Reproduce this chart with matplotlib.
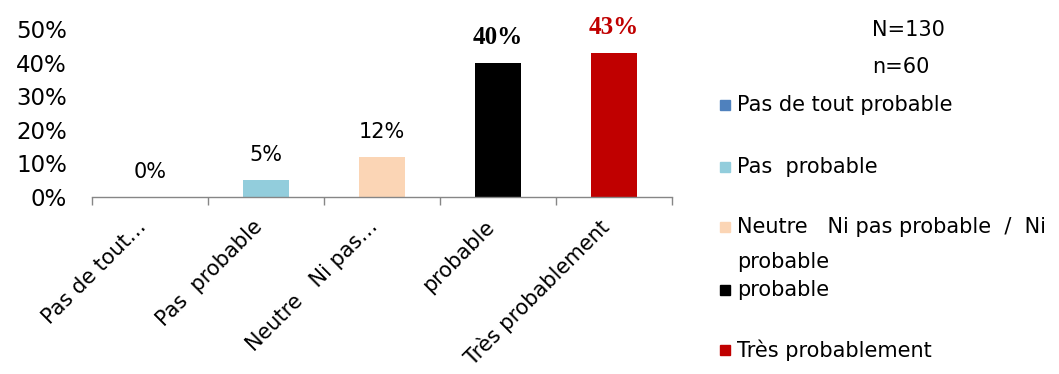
import numpy as np
import matplotlib
matplotlib.use("Agg")
import matplotlib.pyplot as plt
from matplotlib.patches import Rectangle

categories = ["Pas de tout…", "Pas  probable", "Neutre   Ni pas…", "probable", "Très probablement"]
values = [0.0, 0.05, 0.12, 0.40, 0.43]
value_labels = ["0%", "5%", "12%", "40%", "43%"]
legend_labels = ["Pas de tout probable", "Pas  probable",
                 "Neutre   Ni pas probable  /  Ni\nprobable", "probable", "Très probablement"]
colors = ["#4F81BD", "#92CDDC", "#FBD5B5", "#000000", "#C00000"]
yticks = [0.0, 0.1, 0.2, 0.3, 0.4, 0.5]
note = ["N=130", "n=60"]

plt.rcParams['font.family'] = ['DejaVu Sans']

fig = plt.figure(figsize=(10.59, 3.74), dpi=100)
ax = fig.add_axes([0.0869, 0.4733, 0.5477, 0.4492])

x = np.arange(len(values))
bars = ax.bar(x, values, width=0.4, color=colors)

ax.set_xlim(-0.5, len(values) - 0.5)
ax.set_ylim(0, 0.5)
ax.set_yticks(yticks)
ax.set_yticklabels([f"{int(round(t*100))}%" for t in yticks], fontsize=16.5)
ax.tick_params(axis='y', length=0, pad=18)

ax.set_xticks(x)
ax.set_xticklabels(categories, rotation=45, ha='right', fontsize=15)
ax.set_xticks(np.arange(len(values) + 1) - 0.5, minor=True)
ax.tick_params(axis='x', which='major', length=0, pad=14)
ax.tick_params(axis='x', which='minor', length=6, color='#868686', width=1)

for side in ("top", "right", "left"):
    ax.spines[side].set_visible(False)
ax.spines["bottom"].set_color('#868686')
ax.spines["bottom"].set_linewidth(1)

for i, (b, lab) in enumerate(zip(bars, value_labels)):
    if i >= 3:
        kw = dict(fontsize=18, fontweight='bold', family='Liberation Serif', color=colors[i])
    else:
        kw = dict(fontsize=15, color='black')
    ax.annotate(lab, (b.get_x() + b.get_width() / 2, b.get_height()),
                xytext=(0, 18), textcoords='offset points',
                ha='center', va='center', annotation_clip=False, **kw)

# N / n note
fig.text(872 / 1059, 1 - 30 / 374, note[0], fontsize=15, va='center', ha='left')
fig.text(872 / 1059, 1 - 67 / 374, note[1], fontsize=15, va='center', ha='left')

# legend drawn by hand to keep the spacing of the original
leg_y = [105, 167, 227, 290, 350]
for lab, col, yy in zip(legend_labels, colors, leg_y):
    yf = 1 - yy / 374
    fig.patches.append(Rectangle((720 / 1059, yf - 5 / 374), 10 / 1059, 10 / 374,
                                 transform=fig.transFigure, color=col))
    fig.text(737 / 1059, yf, lab.split("\n")[0], fontsize=15, va='center', ha='left')
    if "\n" in lab:
        fig.text(737 / 1059, yf - 35 / 374, lab.split("\n")[1], fontsize=15,
                 va='center', ha='left')

fig.savefig("out.png", dpi=100)
